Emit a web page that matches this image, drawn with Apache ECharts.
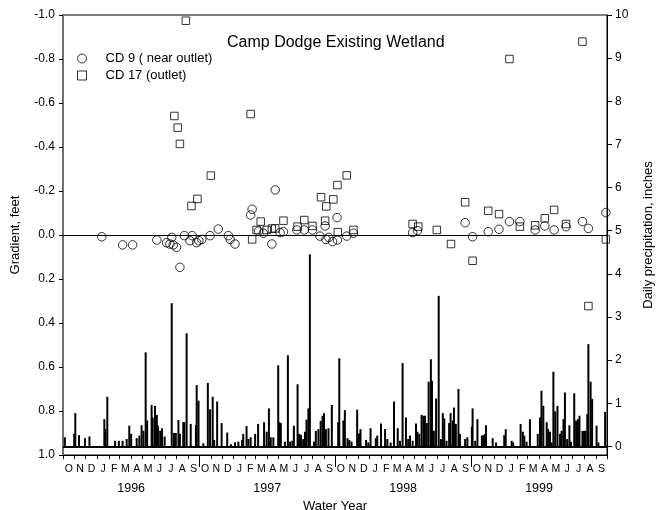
<!DOCTYPE html>
<html>
<head>
<meta charset="utf-8">
<script src="https://cdn.jsdelivr.net/npm/echarts@6/dist/echarts.min.js"></script>
<style>
  html, body { margin: 0; padding: 0; background: #fff; }
  #chart { width: 657px; height: 510px; }
</style>
</head>
<body>
<div id="chart"></div>
<script>
// x values are days since the start of water year 1996 (1995-10-01)
var monthLetters = ['O', 'N', 'D', 'J', 'F', 'M', 'A', 'M', 'J', 'J', 'A', 'S'];
var waterYears = ['1996', '1997', '1998', '1999'];

// CD 9 (near outlet): [day, gradient ft]
var cd9 = [
    [104, 0.008], [160, 0.045], [187, 0.045], [252, 0.023], [278, 0.035], [287, 0.041],
    [292, 0.011], [296, 0.045], [305, 0.056], [314, 0.147], [326, 0.003], [341, 0.026],
    [347, 0.003], [359, 0.035], [365, 0.026], [373, 0.020], [395, 0.003], [417, -0.027],
    [444, 0.003], [449, 0.020], [462, 0.041], [504, -0.091], [508, -0.117], [525, -0.018],
    [538, -0.008], [561, 0.041], [570, -0.205], [583, -0.011], [592, -0.015], [628, -0.023],
    [648, -0.023], [670, -0.023], [690, 0.005], [704, -0.041], [706, 0.020], [714, 0.011],
    [724, 0.030], [737, 0.023], [736, -0.079], [762, 0.005], [780, -0.008], [939, -0.011],
    [952, -0.020], [1080, -0.056], [1100, 0.008], [1142, -0.015], [1171, -0.026],
    [1199, -0.061], [1227, -0.061], [1268, -0.023], [1294, -0.041], [1319, -0.023],
    [1351, -0.038], [1395, -0.061], [1411, -0.030], [1458, -0.102]
];

// CD 17 (outlet): [day, gradient ft]
var cd17 = [
    [299, -0.541], [308, -0.488], [314, -0.414], [330, -0.974], [345, -0.132], [361, -0.164],
    [397, -0.270], [504, -0.550], [508, 0.020], [520, -0.023], [531, -0.061], [547, -0.023],
    [561, -0.029], [570, -0.030], [592, -0.065], [630, -0.038], [648, -0.068], [670, -0.041],
    [693, -0.172], [704, -0.065], [707, -0.130], [726, -0.162], [737, -0.227], [738, -0.013],
    [762, -0.271], [780, -0.023], [939, -0.050], [954, -0.038], [1004, -0.023], [1042, 0.041],
    [1080, -0.149], [1100, 0.117], [1142, -0.110], [1171, -0.095], [1199, -0.800],
    [1227, -0.038], [1268, -0.044], [1294, -0.076], [1319, -0.114], [1351, -0.050],
    [1395, -0.879], [1411, 0.323], [1458, 0.020]
];

// daily precipitation: [day, inches]
var precip = [
    [5, 0.21], [30, 0.29], [33, 0.77], [43, 0.26], [59, 0.19], [71, 0.23], [111, 0.63],
    [114, 0.40], [119, 1.15], [140, 0.13], [150, 0.13], [160, 0.13], [171, 0.17], [178, 0.48],
    [183, 0.29], [198, 0.19], [205, 0.25], [211, 0.49], [216, 0.36], [222, 2.18], [226, 0.60],
    [238, 0.96], [241, 0.67], [247, 0.94], [252, 0.73], [255, 0.48], [261, 0.36], [266, 0.42],
    [273, 0.23], [292, 3.32], [298, 0.31], [303, 0.31], [310, 0.61], [314, 0.29], [323, 0.56],
    [326, 0.56], [332, 2.62], [343, 0.52], [357, 0.49], [359, 1.42], [364, 1.06], [377, 0.07],
    [389, 1.47], [395, 0.86], [402, 1.15], [406, 0.15], [414, 1.04], [426, 0.54], [441, 0.32],
    [451, 0.05], [462, 0.09], [471, 0.11], [481, 0.15], [484, 0.29], [493, 0.47], [498, 0.17],
    [504, 0.21], [516, 0.29], [524, 0.52], [540, 0.56], [547, 0.34], [553, 0.88], [558, 0.21],
    [565, 0.21], [578, 1.88], [581, 0.56], [585, 0.54], [596, 0.11], [604, 2.11], [610, 0.11],
    [616, 0.13], [620, 0.48], [630, 1.44], [634, 0.29], [639, 0.27], [645, 0.17], [650, 0.34],
    [654, 0.62], [659, 0.88], [663, 4.45], [674, 0.11], [679, 0.36], [686, 0.40], [692, 0.59],
    [697, 0.71], [701, 0.77], [706, 0.40], [713, 0.42],
    [722, 0.96], [739, 0.56], [742, 2.04], [753, 0.60], [757, 0.84], [764, 0.19], [769, 0.15],
    [775, 0.11], [790, 0.85], [795, 0.30], [799, 0.40], [814, 0.15], [820, 0.09], [826, 0.42],
    [840, 0.19], [844, 0.25], [854, 0.53], [865, 0.40], [871, 0.17], [880, 0.09], [889, 1.04],
    [899, 0.42], [905, 0.13], [912, 1.93], [921, 0.67], [927, 0.17], [932, 0.25], [939, 0.13],
    [948, 0.53], [952, 0.34], [957, 0.29], [963, 0.73], [968, 0.71], [972, 0.71], [977, 0.54],
    [982, 1.50], [988, 2.02], [991, 1.52], [996, 0.36], [1002, 1.11], [1009, 3.49], [1015, 0.17],
    [1020, 0.77], [1024, 0.65], [1030, 0.13], [1037, 0.54], [1041, 0.77], [1047, 0.60],
    [1050, 0.90], [1055, 0.52], [1062, 1.33], [1066, 0.29], [1080, 0.17], [1086, 0.21],
    [1098, 0.46], [1100, 0.88], [1107, 0.13], [1113, 0.63], [1125, 0.25], [1129, 0.26],
    [1133, 0.29], [1136, 0.49], [1154, 0.19], [1163, 0.09], [1185, 0.26], [1189, 0.40],
    [1205, 0.13], [1209, 0.09], [1229, 0.52], [1235, 0.34], [1239, 0.25], [1245, 0.11],
    [1254, 0.63], [1275, 0.29], [1281, 0.67], [1285, 1.29], [1290, 0.94], [1299, 0.56],
    [1303, 0.40], [1308, 0.34], [1312, 0.09], [1317, 1.73], [1322, 0.81], [1328, 0.94],
    [1335, 0.29], [1339, 0.36], [1344, 0.63], [1348, 1.25], [1354, 0.17], [1360, 0.49],
    [1364, 0.11], [1373, 1.23], [1378, 0.60], [1383, 0.63], [1387, 0.71], [1395, 0.36],
    [1399, 0.36], [1403, 0.36], [1408, 0.75], [1411, 2.37], [1417, 1.50], [1421, 1.10],
    [1433, 0.48], [1438, 0.09], [1456, 0.80]
];

// month boundaries (days since 1995-10-01), derived from the calendar
var DAY = 864e5;
var origin = Date.UTC(1995, 9, 1);
var monthStarts = [];
for (var i = 0; i <= 48; i++) {
    monthStarts.push((Date.UTC(1995, 9 + i, 1) - origin) / DAY);
}
var midMonths = [];
for (var i = 0; i < 48; i++) {
    midMonths.push((monthStarts[i] + monthStarts[i + 1]) / 2);
}
var yearBreaks = [monthStarts[12], monthStarts[24], monthStarts[36]];
var midYears = [];
for (var k = 0; k < 4; k++) {
    midYears.push((monthStarts[k * 12] + monthStarts[k * 12 + 12]) / 2);
}
var xMax = monthStarts[48];

function nearest(list, v) {
    var best = 0;
    for (var i = 1; i < list.length; i++) {
        if (Math.abs(list[i] - v) < Math.abs(list[best] - v)) best = i;
    }
    return best;
}

var FONT = "'Liberation Sans', Arial, sans-serif";
var hollow = { color: 'transparent', borderColor: '#000', borderWidth: 1 };
var zeroLine = {
    silent: true,
    symbol: 'none',
    label: { show: false },
    lineStyle: { color: '#000', width: 1, type: 'solid' },
    data: [{ yAxis: 0 }]
};

var chart = echarts.init(document.getElementById('chart'), null, { renderer: 'canvas' });
chart.setOption({
    animation: false,
    backgroundColor: '#fff',
    textStyle: { fontFamily: FONT, color: '#000' },
    title: {
        text: 'Camp Dodge Existing Wetland',
        left: 227,
        top: 35,
        padding: 0,
        textStyle: { fontFamily: FONT, fontSize: 16, fontWeight: 'normal', color: '#000' }
    },
    legend: {
        orient: 'vertical',
        left: 77,
        top: 52,
        padding: 0,
        itemWidth: 9,
        itemHeight: 9,
        itemGap: 4,
        textStyle: { fontFamily: FONT, fontSize: 13, color: '#000', padding: [0, 0, 0, 14] },
        data: [
            { name: 'CD 9 ( near outlet)', icon: 'circle', itemStyle: hollow },
            { name: 'CD 17 (outlet)', icon: 'rect', itemStyle: hollow }
        ]
    },
    grid: {
        left: 63, right: 50, top: 15, bottom: 55,
        outerBoundsMode: 'none',
        containLabel: false,
        show: true, borderColor: '#000', borderWidth: 1, backgroundColor: 'transparent'
    },
    xAxis: [{
        type: 'value',
        min: 0,
        max: xMax,
        position: 'bottom',
        splitLine: { show: false },
        axisLine: { onZero: false, lineStyle: { color: '#000', width: 1 } },
        axisTick: { inside: false, customValues: monthStarts, length: 4, lineStyle: { color: '#000' } },
        axisLabel: {
            customValues: midMonths,
            margin: 9,
            fontSize: 10.5,
            color: '#000',
            fontFamily: FONT,
            formatter: function (v) { return monthLetters[nearest(midMonths, v) % 12]; }
        }
    }, {
        type: 'value',
        min: 0,
        max: xMax,
        position: 'bottom',
        splitLine: { show: false },
        axisLine: { show: false, onZero: false },
        axisTick: { inside: false, customValues: yearBreaks, length: 12, lineStyle: { color: '#000' } },
        axisLabel: {
            customValues: midYears,
            margin: 27,
            fontSize: 12.5,
            color: '#000',
            fontFamily: FONT,
            formatter: function (v) { return waterYears[nearest(midYears, v)]; }
        },
        name: 'Water Year',
        nameLocation: 'middle',
        nameGap: 38,
        nameTextStyle: { fontFamily: FONT, fontSize: 13, color: '#000' }
    }],
    yAxis: [{
        type: 'value',
        inverse: true,
        min: -1,
        max: 1,
        interval: 0.2,
        position: 'left',
        splitLine: { show: false },
        axisLine: { show: true, onZero: false, lineStyle: { color: '#6e6e6e', width: 2 } },
        axisTick: { show: true, inside: false, length: 4, lineStyle: { color: '#000' } },
        axisLabel: {
            margin: 8, fontSize: 12, color: '#000', fontFamily: FONT,
            formatter: function (v) { return v.toFixed(1); }
        },
        name: 'Gradient, feet',
        nameLocation: 'middle',
        nameGap: 41,
        nameTextStyle: { fontFamily: FONT, fontSize: 13, color: '#000' }
    }, {
        type: 'value',
        min: -0.2,
        max: 10,
        position: 'right',
        splitLine: { show: false },
        axisLine: { show: true, onZero: false, lineStyle: { color: '#000', width: 1 } },
        axisTick: {
            show: true, inside: false, customValues: [0, 1, 2, 3, 4, 5, 6, 7, 8, 9, 10],
            length: 5, lineStyle: { color: '#000' }
        },
        axisLabel: {
            customValues: [0, 1, 2, 3, 4, 5, 6, 7, 8, 9, 10],
            margin: 8, fontSize: 12, color: '#000', fontFamily: FONT
        },
        name: 'Daily precipitation, inches',
        nameLocation: 'middle',
        nameGap: 35,
        nameTextStyle: { fontFamily: FONT, fontSize: 13, color: '#000' }
    }],
    series: [{
        name: 'Daily precipitation',
        type: 'bar',
        xAxisIndex: 0,
        yAxisIndex: 1,
        barWidth: 2,
        itemStyle: { color: '#000' },
        data: precip,
        z: 1,
        markLine: Object.assign({}, zeroLine, {
            lineStyle: { color: '#000', width: 2, type: 'solid' }
        })
    }, {
        name: 'CD 9 ( near outlet)',
        type: 'scatter',
        xAxisIndex: 0,
        yAxisIndex: 0,
        symbol: 'circle',
        symbolSize: 8.5,
        itemStyle: hollow,
        data: cd9,
        z: 3,
        markLine: zeroLine
    }, {
        name: 'CD 17 (outlet)',
        type: 'scatter',
        xAxisIndex: 0,
        yAxisIndex: 0,
        symbol: 'rect',
        symbolSize: 7.5,
        itemStyle: hollow,
        data: cd17,
        z: 3
    }]
});
</script>
</body>
</html>
